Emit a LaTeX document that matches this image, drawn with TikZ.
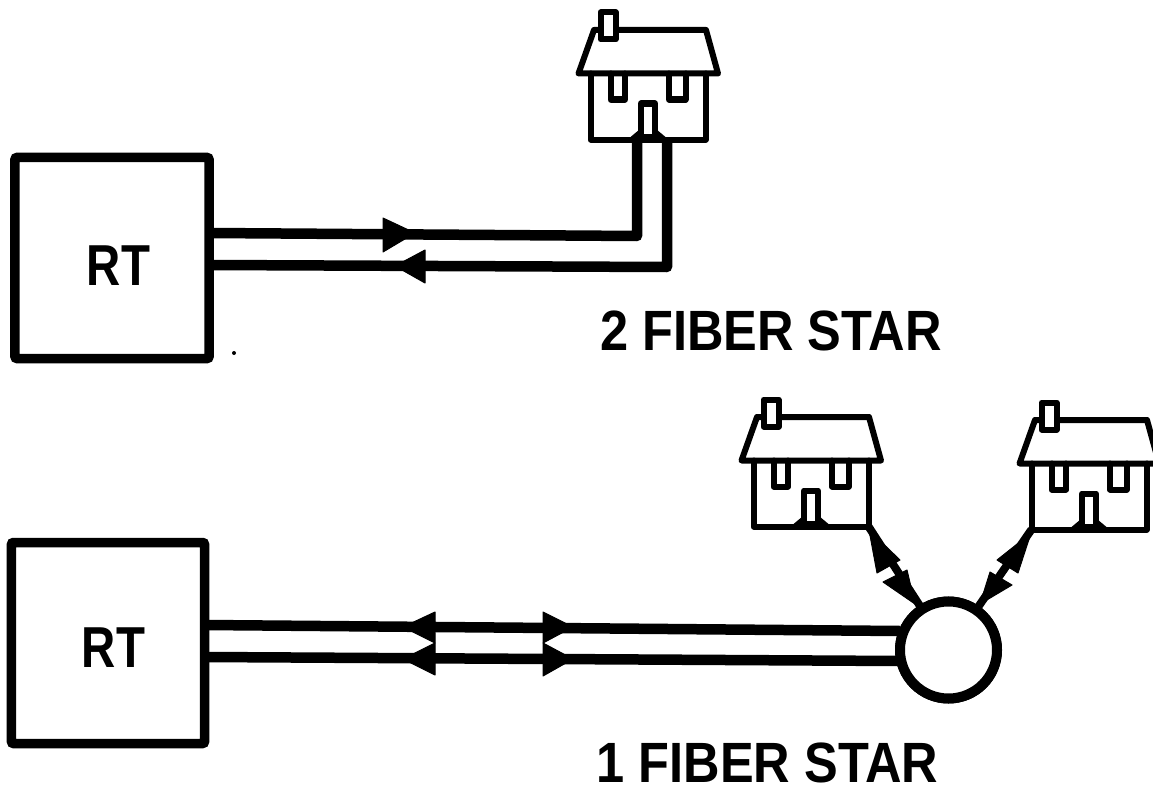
\documentclass[tikz,border=0pt]{standalone}
\usepackage{graphicx}
\usepackage{fontspec}
\setmainfont{Liberation Sans}
\tikzset{
  house/.pic={
    \draw[houseline] (-12,-66) -- (3.5,-109.5) -- (115.5,-109.5) -- (127.5,-66) -- cycle;
    \draw[houseline,fill=white] (10,-127) rectangle (25,-100);
    \draw[houseline] (0,-66) -- (0,0) -- (115,0) -- (115,-66);
    \draw[houseline] (20,-66) -- (20,-40) -- (34.5,-40) -- (34.5,-66);
    \draw[houseline] (78.5,-66) -- (78.5,-40) -- (95,-40) -- (95,-66);
    \fill[line join=round] (37,0) -- (49,-10) -- (66,-10) -- (78,0) -- cycle;
    \draw[houseline,fill=white] (50.5,-6) -- (50.5,-36) -- (64.5,-36) -- (64.5,-6);
    \coordinate (-corner) at (115,0);
    \coordinate (-origin) at (0,0);
  },
  houseline/.style={line width=6bp,line join=round,line cap=round},
  fiber/.style={line width=10.5bp,line join=round},
  thinlink/.style={line width=8bp},
  head/.style={fill=black,draw=black,line width=1bp,line join=round},
  rtbox/.style={draw,line width=9.5bp,inner sep=0pt,outer sep=0pt,rounded corners=2bp},
  rtlabel/.style={inner sep=0pt,font=\bfseries\fontsize{58}{62}\selectfont},
  title/.style={inner sep=0pt,font=\bfseries\fontsize{57}{61}\selectfont},
  hubnode/.style={circle,draw,line width=10bp,fill=white,minimum size=97bp,inner sep=0pt,outer sep=0pt}
}
\begin{document}
\begin{tikzpicture}[x=1bp,y=-1bp]
\useasboundingbox (0,0) rectangle (1153,791);
\clip (0,0) rectangle (1153,791);
% top: two-fibre star
\node[rtbox,minimum width=194bp,minimum height=201bp] (rtA) at (112,258) {};
\node[rtlabel] (rtAt) at (118.5,266) {\scalebox{0.82}[1]{RT}};
\pic (hA) at (590.5,139.5) {house};
\coordinate (upS) at (637,140);
\coordinate (upB) at (637,236);
\coordinate (upL) at (210,233);
\coordinate (loS) at (667,140);
\coordinate (loB) at (667,267);
\coordinate (loL) at (210,265);
\draw[fiber] (upL) -- (upB) -- (upS);
\draw[fiber] (loL) -- (loB) -- (loS);
\fill[head] (383,218) -- (415,233) -- (383,252) -- cycle;
\fill[head] (425,250) -- (395,266) -- (425,283) -- cycle;
\node[title] (titleA) at (771,331) {\scalebox{0.89}[1]{2 FIBER STAR}};
\fill (234,353) circle (2);
% bottom: one-fibre star
\node[rtbox,minimum width=193bp,minimum height=201bp] (rtB) at (108,643) {};
\node[rtlabel] (rtBt) at (113.5,648) {\scalebox{0.82}[1]{RT}};
\pic (hB) at (753.5,526.5) {house};
\pic (hC) at (1031.5,529.5) {house};
\coordinate (f1L) at (205,625);
\coordinate (f1R) at (900,631);
\coordinate (f2L) at (205,657);
\coordinate (f2R) at (900,661);
\draw[fiber] (f1L) -- (f1R);
\draw[fiber] (f2L) -- (f2R);
\fill[head] (435,612) -- (403,627) -- (435,643) -- cycle;
\fill[head] (435,643) -- (403,659) -- (435,675) -- cycle;
\fill[head] (543,612) -- (573,627) -- (543,643) -- cycle;
\fill[head] (543,643) -- (573,659) -- (543,676) -- cycle;
\node[title] (titleB) at (767.5,763) {\scalebox{0.89}[1]{1 FIBER STAR}};
% drops to the houses
\node[hubnode] (hub0) at (948.5,650) {};
\draw[thinlink] (hB-corner) -- (hub0);
\draw[thinlink] (hC-origin) -- (hub0);
\node[hubnode] (hub) at (948.5,650) {};
\fill[head] (869,530) -- (877,573) -- (900,560) -- cycle;
\fill[head] (915,604) -- (883,582) -- (907,570) -- cycle;
\fill[head] (1031,533) -- (997,560) -- (1018,573) -- cycle;
\fill[head] (980,604) -- (990,572) -- (1012,585) -- cycle;
\end{tikzpicture}
\end{document}
